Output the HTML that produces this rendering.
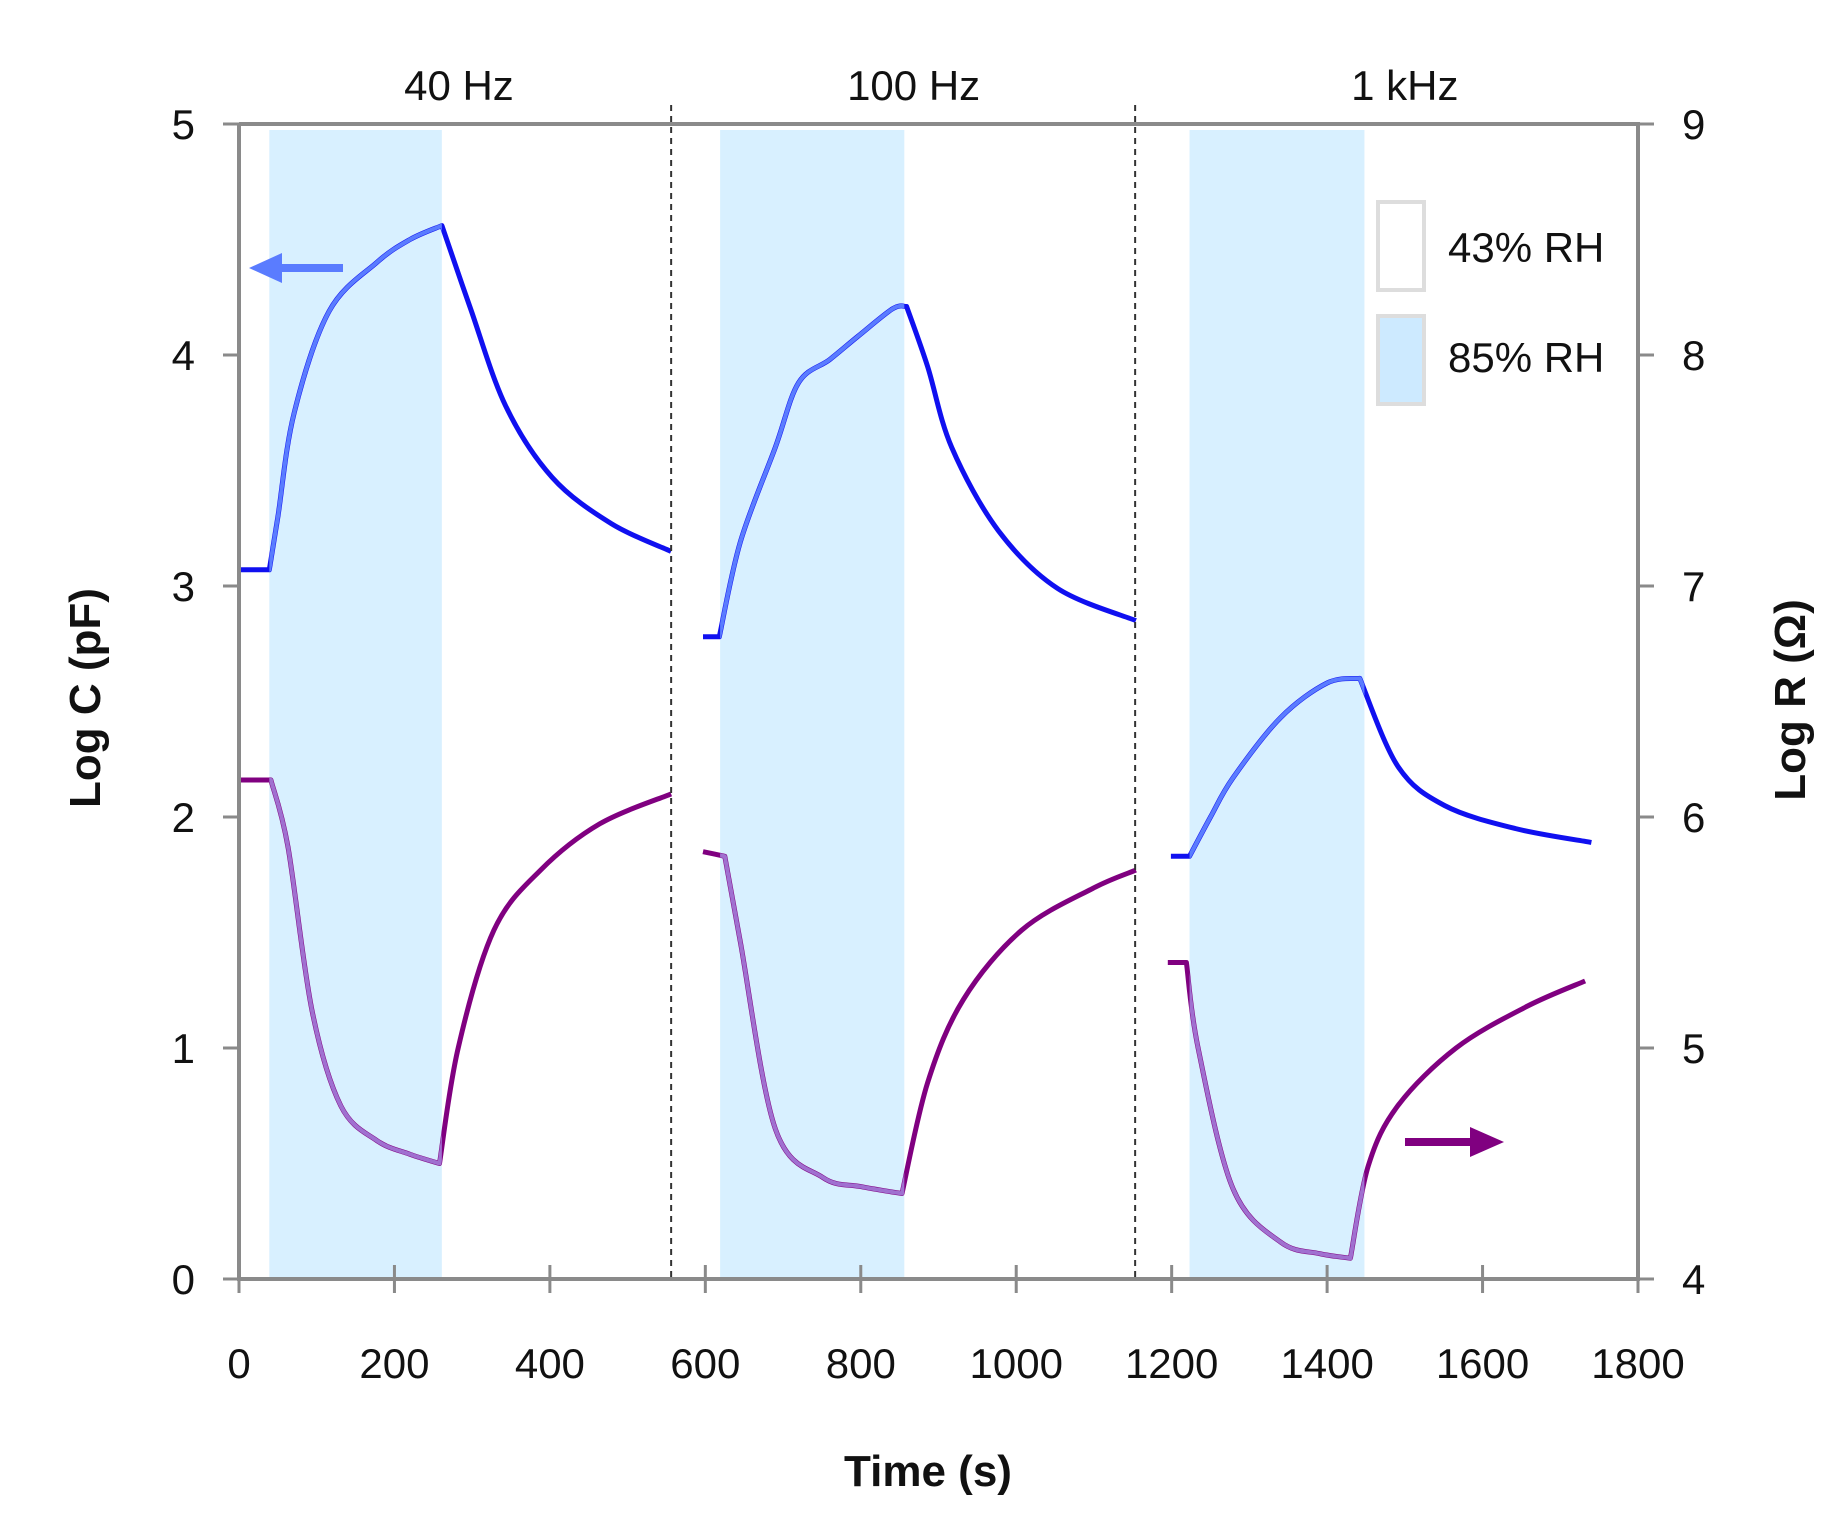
<!DOCTYPE html>
<html><head><meta charset="utf-8"><style>
html,body{margin:0;padding:0;background:#fff}
svg{display:block}
text{font-family:"Liberation Sans",Arial,sans-serif;fill:#111}
</style></head><body>
<svg width="1836" height="1516" viewBox="0 0 1836 1516">
<defs><clipPath id="shadeClip"></clipPath></defs>
<g id="shade"></g>
<g id="lines"></g>
<g id="axes"></g>
</svg>
<script>
const NS='http://www.w3.org/2000/svg';
const shadeSpans=[[39,261],[619,856],[1223,1448]];
const dividers=[556,1153];
const panelTitles=['40 Hz','100 Hz','1 kHz'];
const panelTitleTimes=[283,868,1500];
const xTicks=[0,200,400,600,800,1000,1200,1400,1600,1800];
const yLeftTicks=[0,1,2,3,4,5];
const yRightTicks=[4,5,6,7,8,9];
const capT=[[0,39,50,71,116,177,220,261,297,343,403,479,556],[597,618,645,690,720,760,796,841,859,886,917,977,1053,1154],[1199,1223,1250,1279,1340,1400,1442,1491,1551,1642,1740]];
const capV=[[3.07,3.07,3.3,3.75,4.19,4.40,4.50,4.56,4.21,3.78,3.47,3.27,3.15],[2.78,2.78,3.19,3.60,3.88,3.98,4.08,4.20,4.21,3.95,3.60,3.24,2.99,2.85],[1.83,1.83,2.00,2.17,2.43,2.58,2.60,2.22,2.05,1.95,1.89]];
const resT=[[0,41,63,94,131,177,220,258,282,328,388,464,556],[597,625,645,690,751,800,853,886,932,1007,1098,1154],[1195,1219,1234,1279,1340,1390,1430,1453,1491,1566,1657,1732]];
const resV=[[6.16,6.16,5.87,5.16,4.75,4.60,4.54,4.50,5.00,5.51,5.77,5.97,6.10],[5.85,5.83,5.46,4.65,4.44,4.40,4.37,4.85,5.21,5.51,5.69,5.77],[5.37,5.37,5.00,4.39,4.16,4.11,4.09,4.49,4.75,5.00,5.18,5.29]];

const X0=239,X1=1638,Y0=1279,Y1=124;
const xs=t=>X0+(X1-X0)*t/1800;
const yl=v=>Y0-(Y0-Y1)*v/5;
const yr=v=>Y0-(Y0-Y1)*(v-4)/5;
function mk(tag,attrs,parent){const e=document.createElementNS(NS,tag);for(const k in attrs)e.setAttribute(k,attrs[k]);parent.appendChild(e);return e;}
const shade=document.getElementById('shade'),axes=document.getElementById('axes'),lines=document.getElementById('lines');
const clip=document.getElementById('shadeClip');
shadeSpans.forEach((s,i)=>{
 const r=mk('rect',{x:xs(s[0]),y:Y1+6,width:xs(s[1])-xs(s[0]),height:Y0-Y1-6,fill:'#d8f0ff'},shade);
 
 
 mk('rect',{x:xs(s[0]),y:0,width:xs(s[1])-xs(s[0]),height:1516},clip);
});
dividers.forEach((d,i)=>{
 const l=mk('line',{x1:xs(d),x2:xs(d),y1:105,y2:Y0,stroke:'#333','stroke-width':2,'stroke-dasharray':'6,5'},axes);
 
 
});
function cr(pts){
 let d='';
 for(let i=0;i<pts.length-1;i++){
  const p0=pts[Math.max(0,i-1)],p1=pts[i],p2=pts[i+1],p3=pts[Math.min(pts.length-1,i+2)];
  const c1=[p1[0]+(p2[0]-p0[0])/6,p1[1]+(p2[1]-p0[1])/6];
  const c2=[p2[0]-(p3[0]-p1[0])/6,p2[1]-(p3[1]-p1[1])/6];
  d+=` C${c1[0].toFixed(1)},${c1[1].toFixed(1)} ${c2[0].toFixed(1)},${c2[1].toFixed(1)} ${p2[0].toFixed(1)},${p2[1].toFixed(1)}`;
 }
 return d;
}
function path(ts,vs,ys,isMax){
 const pts=ts.map((t,i)=>[xs(t),ys(vs[i])]);
 let ext=1;
 vs.forEach((v,i)=>{if(isMax?v>vs[ext]:v<vs[ext])ext=i;});
 const breaks=[0,1,ext,pts.length-1];
 let d='M'+pts[0][0].toFixed(1)+','+pts[0][1].toFixed(1);
 for(let b=0;b<breaks.length-1;b++){
  if(breaks[b+1]>breaks[b]) d+=cr(pts.slice(breaks[b],breaks[b+1]+1));
 }
 return d;
}
function drawSeries(T,V,ys,dark,light,name,isMax){
 T.forEach((ts,i)=>{
  const d=path(ts,V[i],ys,isMax);
  const p=mk('path',{d:d,fill:'none',stroke:dark,'stroke-width':5,'stroke-linejoin':'round'},lines);
  
  
  const q=mk('path',{d:d,fill:'none',stroke:light,'stroke-width':4,'stroke-linejoin':'round','clip-path':'url(#shadeClip)'},lines);
  
  
 });
}
drawSeries(capT,capV,yl,'#1010f0','#5a7cff','capacitance-line',true);
drawSeries(resT,resV,yr,'#800080','#a070d0','resistance-line',false);
const fr=mk('path',{d:`M${X0},${Y1} L${X0},${Y0} L${X1},${Y0} L${X1},${Y1} L${X0},${Y1}`,fill:'none',stroke:'#8a8a8a','stroke-width':4},axes);


xTicks.forEach(t=>{
 mk('line',{x1:xs(t),x2:xs(t),y1:Y0-14,y2:Y0+14,stroke:'#8a8a8a','stroke-width':3},axes);
 const tx=mk('text',{x:xs(t),y:1378,'text-anchor':'middle','font-size':42},axes);
 tx.textContent=t;
 
 
});
yLeftTicks.forEach(v=>{
 mk('line',{x1:X0-16,x2:X0,y1:yl(v),y2:yl(v),stroke:'#8a8a8a','stroke-width':3},axes);
 const tx=mk('text',{x:195,y:yl(v)+15,'text-anchor':'end','font-size':42},axes);
 tx.textContent=v;
 
 
});
yRightTicks.forEach(v=>{
 mk('line',{x1:X1,x2:X1+16,y1:yr(v),y2:yr(v),stroke:'#8a8a8a','stroke-width':3},axes);
 const tx=mk('text',{x:1682,y:yr(v)+15,'text-anchor':'start','font-size':42},axes);
 tx.textContent=v;
 
 
});
panelTitles.forEach((s,i)=>{
 const tx=mk('text',{x:xs(panelTitleTimes[i]),y:100,'text-anchor':'middle','font-size':42},axes);
 tx.textContent=s;
 
 
});
</script>
<svg style="position:absolute;left:0;top:0" width="1836" height="1516">
<text x="928" y="1486" text-anchor="middle" font-size="44" font-weight="bold">Time (s)</text>
<text transform="translate(100,698) rotate(-90)" text-anchor="middle" font-size="44" font-weight="bold">Log C (pF)</text>
<text transform="translate(1805,700) rotate(-90)" text-anchor="middle" font-size="44" font-weight="bold">Log R (Ω)</text>
<rect x="1378" y="202" width="46" height="88" fill="#fff" stroke="#ddd" stroke-width="4"/>
<text x="1448" y="262" font-size="42">43% RH</text>
<rect x="1378" y="316" width="46" height="88" fill="#cdeaff" stroke="#ddd" stroke-width="4"/>
<text x="1448" y="372" font-size="42">85% RH</text>
<g>
<line x1="343" y1="268" x2="275" y2="268" stroke="#5a7cff" stroke-width="8"/>
<polygon points="249,268 282,253 282,283" fill="#5a7cff"/>
</g>
<g>
<line x1="1405" y1="1142" x2="1475" y2="1142" stroke="#800080" stroke-width="8"/>
<polygon points="1504,1142 1470,1127 1470,1157" fill="#800080"/>
</g>
</svg>
</body></html>
